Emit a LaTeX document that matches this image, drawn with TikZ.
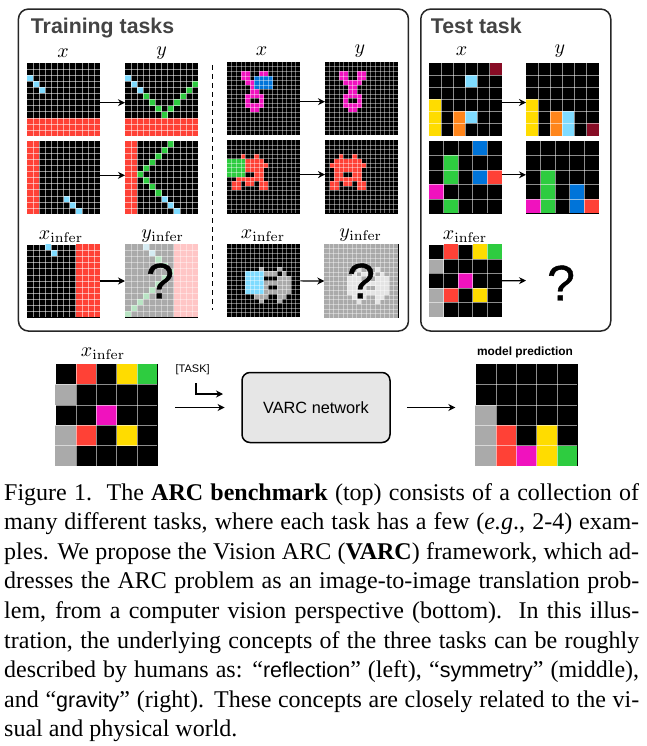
\documentclass[tikz,border=0pt]{standalone}
\usepackage[no-math]{fontspec}
\setmainfont{Liberation Serif}
\setsansfont{Liberation Sans}
\newfontfamily\askfont[FakeBold=0.8]{Liberation Sans}
\usepackage{tikz}
\usetikzlibrary{arrows, arrows.meta}
\definecolor{arcblue}{HTML}{0074D9}
\definecolor{arcred}{HTML}{FF4136}
\definecolor{arcgreen}{HTML}{2ECC40}
\definecolor{arcyellow}{HTML}{FFDC00}
\definecolor{arcgray}{HTML}{AAAAAA}
\definecolor{arcpink}{HTML}{F012BE}
\definecolor{arcorange}{HTML}{FF851B}
\definecolor{arccyan}{HTML}{7FDBFF}
\definecolor{arcmaroon}{HTML}{870C25}
\definecolor{palecyan}{HTML}{D5EBF2}
\definecolor{palered}{HTML}{FFC6C6}
\definecolor{palegreen}{HTML}{B9E4C4}
\definecolor{palegray}{HTML}{E4E4E4}
\definecolor{titlegray}{HTML}{444444}
\definecolor{boxgray}{HTML}{E6E6E6}
\tikzstyle{panel} = [rectangle, rounded corners=10pt, line width=1.5pt, draw=black!85, anchor=north west, inner sep=0pt]
\tikzstyle{cellgrid} = [rectangle, anchor=north west, fill=black, inner sep=0pt]
\tikzstyle{gridline} = [line width=0.4pt, white, opacity=0.55]
\tikzstyle{fineline} = [line width=0.35pt, white, opacity=0.42]
\tikzstyle{paleline} = [line width=0.4pt, white, opacity=0.4]
\tikzstyle{title} = [anchor=base west, inner sep=0pt, text=titlegray, font=\sffamily\bfseries\fontsize{21.3}{22}\selectfont]
\tikzstyle{lab} = [scale=2, inner sep=0pt]
\tikzstyle{ask} = [inner sep=0pt, font=\askfont\fontsize{50}{50}\selectfont]
\tikzstyle{net} = [rectangle, rounded corners=8pt, line width=1.5pt, draw=black, fill=boxgray, minimum width=148pt, minimum height=70pt, font=\sffamily\fontsize{16.3}{18}\selectfont]
\tikzstyle{arrow} = [line width=1.2pt,->,>={Stealth[length=7pt,width=7pt]}]
\newcommand{\arcgrid}[7][gridline]{%
	\node (#2) [cellgrid, minimum size=#5pt] at (#3,#4) {};
	\foreach \cc/\rr/\ww/\hh/\col in {#7}
		\fill[\col] ({#3+\cc*#5/#6},{#4+\rr*#5/#6}) rectangle ++({\ww*#5/#6},{\hh*#5/#6});
	\pgfmathtruncatemacro{\nlast}{#6-1}
	\foreach \ii in {1,...,\nlast} {
		\draw[#1] ({#3+\ii*#5/#6},#4) -- ++(0,#5);
		\draw[#1] (#3,{#4+\ii*#5/#6}) -- ++(#5,0);
	}
}
\newcommand{\sfword}[1]{{\sffamily\fontsize{21.5}{29.6}\selectfont #1}}

\begin{document}
\begin{tikzpicture}[x=1pt, y=-1pt]
		\useasboundingbox (0,0) rectangle (646,746);
		
		\node (train) [panel, minimum width=390pt, minimum height=322pt] at (17.7,8.3) {};
		\node (test) [panel, minimum width=190pt, minimum height=322pt] at (420,8.3) {};
		\node (traintitle) [title] at (30.7,34) {Training tasks};
		\node (testtitle) [title] at (430.7,34) {Test task};
		
		\node (labx1) [lab] at (63,53) {$x$};
		\node (laby1) [lab] at (161.7,53) {$y$};
		\node (labx2) [lab] at (261.7,51) {$x$};
		\node (laby2) [lab] at (360,51) {$y$};
		\node (labx3) [lab] at (461.7,51) {$x$};
		\node (laby3) [lab] at (560,51) {$y$};
		\node (labi1) [lab] at (61,236.5) {$x_{\mathrm{infer}}$};
		\node (labo1) [lab] at (162.7,236.5) {$y_{\mathrm{infer}}$};
		\node (labi2) [lab] at (263,235.5) {$x_{\mathrm{infer}}$};
		\node (labo2) [lab] at (360.7,235.5) {$y_{\mathrm{infer}}$};
		\node (labi3) [lab] at (465,236.5) {$x_{\mathrm{infer}}$};
		
		% left task
		\arcgrid{a1}{27}{63}{73}{12}{0/2/1/1/arccyan, 1/3/1/1/arccyan, 2/4/1/1/arccyan, 0/9/12/3/arcred}
		\arcgrid{b1}{125}{63}{73}{12}{0/2/1/1/arccyan, 1/3/1/1/arccyan, 2/4/1/1/arccyan, 0/9/12/3/arcred, 3/5/1/1/arcgreen, 4/6/1/1/arcgreen, 5/7/1/1/arcgreen, 6/8/1/1/arcgreen, 7/7/1/1/arcgreen, 8/6/1/1/arcgreen, 9/5/1/1/arcgreen, 10/4/1/1/arcgreen, 11/3/1/1/arcgreen}
		\arcgrid{a2}{27}{141}{73}{12}{0/0/2/12/arcred, 6/9/1/1/arccyan, 7/10/1/1/arccyan, 8/11/1/1/arccyan}
		\arcgrid{b2}{125}{141}{73}{12}{0/0/2/12/arcred, 6/9/1/1/arccyan, 7/10/1/1/arccyan, 8/11/1/1/arccyan, 2/5/1/1/arcgreen, 3/4/1/1/arcgreen, 4/3/1/1/arcgreen, 5/2/1/1/arcgreen, 6/1/1/1/arcgreen, 7/0/1/1/arcgreen, 3/6/1/1/arcgreen, 4/7/1/1/arcgreen, 5/8/1/1/arcgreen}
		\arcgrid{a3}{27}{244.3}{73}{12}{3/0/1/1/arccyan, 4/1/1/1/arccyan, 8/0/4/12/arcred}
		\arcgrid[paleline]{b3}{125}{244.3}{73}{12}{0/0/12/12/arcgray, 3/0/1/1/palecyan, 4/1/1/1/palecyan, 8/0/4/12/palered, 5/2/1/1/palegreen, 6/3/1/1/palegreen, 7/4/1/1/palegreen, 6/5/1/1/palegreen, 5/6/1/1/palegreen, 4/7/1/1/palegreen, 3/8/1/1/palegreen, 2/9/1/1/palegreen, 1/10/1/1/palegreen, 0/11/1/1/palegreen}
		
		% middle task
		\arcgrid[fineline]{c1}{227}{62}{73}{16}{3/2/2/2/arcpink, 7/2/2/2/arcpink, 4/4/2/1/arcpink, 6/4/2/1/arcpink, 5/5/2/2/arcpink, 4/7/4/1/arcpink, 4/8/1/1/arcpink, 7/8/1/1/arcpink, 4/9/4/1/arcpink, 5/10/2/1/arcpink, 6/3/4/3/arcblue}
		\arcgrid[fineline]{d1}{325}{62}{73}{16}{3/2/2/2/arcpink, 7/2/2/2/arcpink, 4/4/2/1/arcpink, 6/4/2/1/arcpink, 5/5/2/2/arcpink, 4/7/4/1/arcpink, 4/8/1/1/arcpink, 7/8/1/1/arcpink, 4/9/4/1/arcpink, 5/10/2/1/arcpink}
		\arcgrid[fineline]{c2}{227}{140.3}{73}{16}{3/3/1/1/arcred, 6/3/1/1/arcred, 2/4/6/1/arcred, 1/5/8/1/arcred, 2/6/6/1/arcred, 2/7/2/1/arcred, 6/7/2/1/arcred, 2/8/6/1/arcred, 1/9/2/1/arcred, 4/9/2/1/arcred, 7/9/2/1/arcred, 1/10/2/1/arcred, 7/10/2/1/arcred, 0/4/4/4/arcgreen}
		\arcgrid[fineline]{d2}{325}{140.3}{73}{16}{3/3/1/1/arcred, 6/3/1/1/arcred, 2/4/6/1/arcred, 1/5/8/1/arcred, 2/6/6/1/arcred, 2/7/2/1/arcred, 6/7/2/1/arcred, 2/8/6/1/arcred, 1/9/2/1/arcred, 4/9/2/1/arcred, 7/9/2/1/arcred, 1/10/2/1/arcred, 7/10/2/1/arcred}
		\arcgrid[fineline]{c3}{227}{244}{73}{16}{7/5/1/1/arcgray, 11/5/1/1/arcgray, 8/6/3/1/arcgray, 12/6/1/1/arcgray, 11/7/3/1/arcgray, 8/8/6/1/arcgray, 8/9/1/1/arcgray, 11/9/3/1/arcgray, 8/10/6/1/arcgray, 6/11/3/1/arcgray, 11/11/2/1/arcgray, 7/12/1/1/arcgray, 11/12/1/1/arcgray, 4/6/4/5/arccyan}
		\arcgrid[paleline]{d3}{324.3}{244}{74}{16}{0/0/16/16/arcgray, 7/5/1/1/palegray, 11/5/1/1/palegray, 6/6/1/1/palegray, 8/6/3/1/palegray, 12/6/1/1/palegray, 5/7/3/1/palegray, 11/7/3/1/palegray, 5/8/9/1/palegray, 5/9/4/1/palegray, 11/9/3/1/palegray, 5/10/9/1/palegray, 6/11/3/1/palegray, 11/11/2/1/palegray, 7/12/1/1/palegray, 11/12/1/1/palegray}
		
		% right task
		\arcgrid{e1}{429}{63}{72.6}{6}{5/0/1/1/arcmaroon, 3/1/1/1/arccyan, 0/3/1/3/arcyellow, 2/4/1/2/arcorange, 3/4/1/1/arccyan}
		\arcgrid{f1}{526}{63}{72.6}{6}{0/3/1/3/arcyellow, 2/4/1/2/arcorange, 3/4/1/2/arccyan, 5/5/1/1/arcmaroon}
		\arcgrid{e2}{429}{140.7}{72.6}{5}{1/1/1/2/arcgreen, 1/4/1/1/arcgreen, 3/0/1/1/arcblue, 3/2/1/1/arcblue, 4/2/1/1/arcred, 0/3/1/1/arcpink}
		\arcgrid{f2}{526}{140.7}{72.6}{5}{1/2/1/3/arcgreen, 0/4/1/1/arcpink, 3/3/1/2/arcblue, 4/4/1/1/arcred}
		\arcgrid{e3}{429}{244.3}{72.6}{5}{1/0/1/1/arcred, 3/0/1/1/arcyellow, 4/0/1/1/arcgreen, 0/1/1/1/arcgray, 2/2/1/1/arcpink, 0/3/1/2/arcgray, 1/3/1/1/arcred, 3/3/1/1/arcyellow}
		
		\coordinate (ftop) at (526,280.6);
		\coordinate (sepa) at (212.7,65);
		\coordinate (sepb) at (212.7,310);
		\draw [line width=1.2pt, dash pattern=on 5pt off 4pt] (sepa) -- (sepb);
		
		\draw [arrow] ([yshift=-3pt]a1.east) -- ([yshift=-3pt]b1.west);
		\draw [arrow] ([yshift=2.4pt]a2.east) -- ([yshift=2.4pt]b2.west);
		\draw [arrow] (a3) -- (b3);
		\draw [arrow] ([yshift=-3pt]c1.east) -- ([yshift=-3pt]d1.west);
		\draw [arrow] ([yshift=2.4pt]c2.east) -- ([yshift=2.4pt]d2.west);
		\draw [arrow] (c3) -- (d3);
		\draw [arrow] ([yshift=-3pt]e1.east) -- ([yshift=-3pt]f1.west);
		\draw [arrow] ([yshift=2.4pt]e2.east) -- ([yshift=2.4pt]f2.west);
		\draw [arrow] (e3.east) -- (ftop);
		
		\node (ask1) [ask] at (160,281) {?};
		\node (ask2) [ask] at (361,281) {?};
		\node (ask3) [ask] at (561,283) {?};
		
		% bottom row
		\node (labi4) [lab] at (103,353.5) {$x_{\mathrm{infer}}$};
		\arcgrid{xbig}{55.3}{364}{102}{5}{1/0/1/1/arcred, 3/0/1/1/arcyellow, 4/0/1/1/arcgreen, 0/1/1/1/arcgray, 2/2/1/1/arcpink, 0/3/1/2/arcgray, 1/3/1/1/arcred, 3/3/1/1/arcyellow}
		\arcgrid{pred}{475.3}{364}{102}{5}{0/2/1/3/arcgray, 1/3/1/2/arcred, 3/3/1/2/arcyellow, 2/4/1/1/arcpink, 4/4/1/1/arcgreen}
		\node (predlab) [font=\sffamily\bfseries\fontsize{11.9}{13}\selectfont, inner sep=0pt] at (525,352) {model prediction};
		\node (vnet) [net] at (316,407.5) {VARC network};
		\node (task) [inner sep=0pt, font=\sffamily\fontsize{11}{12}\selectfont] at (192.7,370) {[TASK]};
		\coordinate (taskin) at (196,383);
		\coordinate (taskout) at (223,394);
		\draw [arrow] (taskin) |- (taskout);
		\draw [arrow, shorten <=17.7pt, shorten >=16.7pt] (xbig.east |- vnet.west) -- (vnet.west);
		\draw [arrow, shorten <=16pt, shorten >=20pt] (vnet.east) -- (vnet.east -| pred.west);
		
		\node (caption) [anchor=north west, inner sep=0pt, text width=635pt, align=justify, font=\fontsize{24}{29.6}\selectfont] at (4,483) {Figure 1.\ \ The \textbf{ARC benchmark} (top) consists of a collection of\linebreak
		many different tasks, where each task has a few (\textit{e.g}., 2-4) exam-\linebreak
		ples. We propose the Vision ARC (\textbf{VARC}) framework, which ad-\linebreak
		dresses the ARC problem as an image-to-image translation prob-\linebreak
		lem, from a computer vision perspective (bottom).\ \ In this illus-\linebreak
		tration, the underlying concepts of the three tasks can be roughly\linebreak
		described by humans as: ``\sfword{reflection}'' (left), ``\sfword{symmetry}'' (middle),\linebreak
		and ``\sfword{gravity}'' (right). These concepts are closely related to the vi-\linebreak
		sual and physical world.};
		
		\end{tikzpicture}
\end{document}
